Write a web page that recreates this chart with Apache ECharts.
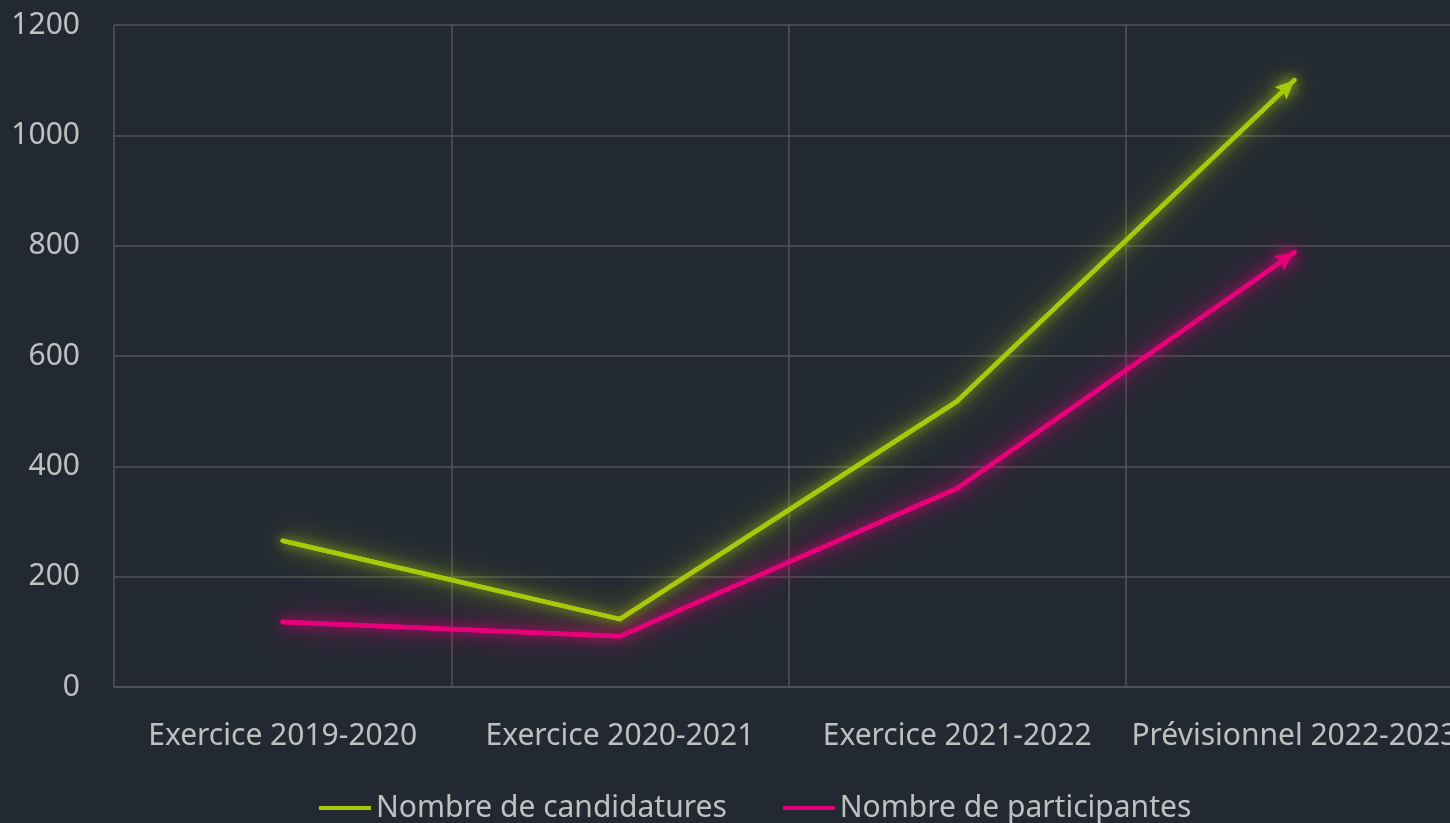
<!DOCTYPE html>
<html>
<head>
<meta charset="utf-8">
<script src="https://cdn.jsdelivr.net/npm/echarts@6/dist/echarts.min.js"></script>
<style>
html,body{margin:0;padding:0;background:#232933;}
#c{width:1450px;height:823px;}
</style>
</head>
<body>
<div id="c"></div>
<script>
const categories = ['Exercice 2019-2020', 'Exercice 2020-2021', 'Exercice 2021-2022', 'Prévisionnel 2022-2023'];
const candidatures = [265, 123, 518, 1100];
const participantes = [118, 92, 360, 788];
const yTicks = [0, 200, 400, 600, 800, 1000, 1200];
const seriesNames = ['Nombre de candidatures', 'Nombre de participantes'];

const GREEN = '#a8c80c';
const PINK = '#e8007a';
const TEXT = '#c0c0c0';
const GRID = '#525457';
const FONT = 'Noto Sans';
const ARROW = 'path://M6,0L12,15L6,12.5L0,15Z';
const ARROW_SIZE = [17, 19];

function buildData(values, rot, off) {
  return values.map((v, i) => {
    if (i === values.length - 1) {
      return { value: v, symbol: ARROW, symbolSize: ARROW_SIZE, symbolRotate: rot || 0, symbolOffset: off || [0, 0] };
    }
    return { value: v, symbol: 'none' };
  });
}

function makeSeries(name, values, color, glow) {
  return {
    name: name,
    type: 'line',
    data: buildData(values),
    showSymbol: true,
    symbolKeepAspect: false,
    lineStyle: { color: color, width: 4.5, cap: 'round', join: 'round', shadowColor: glow, shadowBlur: 12 },
    itemStyle: { color: color, shadowColor: glow, shadowBlur: 16 },
    emphasis: { disabled: true },
    animation: false,
    z: 4
  };
}

// same path underneath, only its wide soft shadow shows: the halo of the line
function makeGlow(name, values, color, glow) {
  return {
    name: name,
    type: 'line',
    data: values,
    symbol: 'none',
    silent: true,
    lineStyle: { color: color, width: 4.5, cap: 'round', join: 'round', shadowColor: glow, shadowBlur: 30 },
    emphasis: { disabled: true },
    animation: false,
    z: 3
  };
}

const chart = echarts.init(document.getElementById('c'), null, { renderer: 'canvas' });

const option = {
  backgroundColor: '#232933',
  animation: false,
  textStyle: { fontFamily: FONT },
  grid: { left: 114, top: 25, width: 1349, height: 662, containLabel: false, outerBoundsMode: 'none' },
  xAxis: {
    type: 'category',
    data: categories,
    boundaryGap: true,
    axisLine: { show: true, lineStyle: { color: GRID, width: 1.5 } },
    axisTick: { show: false },
    splitLine: { show: true, interval: 0, lineStyle: { color: GRID, width: 1.5 } },
    axisLabel: { interval: 0, color: TEXT, fontSize: 30, fontFamily: FONT, margin: 34 }
  },
  yAxis: {
    type: 'value',
    min: yTicks[0],
    max: yTicks[yTicks.length - 1],
    interval: yTicks[1] - yTicks[0],
    axisLine: { show: false },
    axisTick: { show: false },
    splitLine: { show: true, lineStyle: { color: GRID, width: 1.5 } },
    axisLabel: { color: TEXT, fontSize: 30, fontFamily: FONT, margin: 34, formatter: v => String(v) }
  },
  legend: {
    data: seriesNames,
    left: 314,
    top: 788,
    icon: 'rect',
    itemWidth: 52,
    itemHeight: 4,
    itemGap: 56,
    textStyle: { color: TEXT, fontSize: 30, fontFamily: FONT }
  },
  series: [
    makeSeries(seriesNames[0], candidatures, GREEN, 'rgba(168,200,12,0.9)'),
    makeSeries(seriesNames[1], participantes, PINK, 'rgba(232,0,122,0.9)'),
    makeGlow(seriesNames[0], candidatures, GREEN, 'rgba(168,200,12,1)'),
    makeGlow(seriesNames[1], participantes, PINK, 'rgba(232,0,122,1)')
  ]
};
chart.setOption(option);

function arrowParams(values) {
  const n = values.length;
  const p0 = chart.convertToPixel({ gridIndex: 0 }, [n - 2, values[n - 2]]);
  const p1 = chart.convertToPixel({ gridIndex: 0 }, [n - 1, values[n - 1]]);
  const dx = p1[0] - p0[0], dy = p1[1] - p0[1];
  const len = Math.sqrt(dx * dx + dy * dy);
  const ang = Math.atan2(-dy, dx) * 180 / Math.PI;
  const half = ARROW_SIZE[1] / 2;
  return { rot: ang - 90, off: [-half * dx / len, -half * dy / len] };
}
const a1 = arrowParams(candidatures);
const a2 = arrowParams(participantes);
chart.setOption({
  series: [
    { data: buildData(candidatures, a1.rot, a1.off) },
    { data: buildData(participantes, a2.rot, a2.off) }
  ]
});
</script>
</body>
</html>
